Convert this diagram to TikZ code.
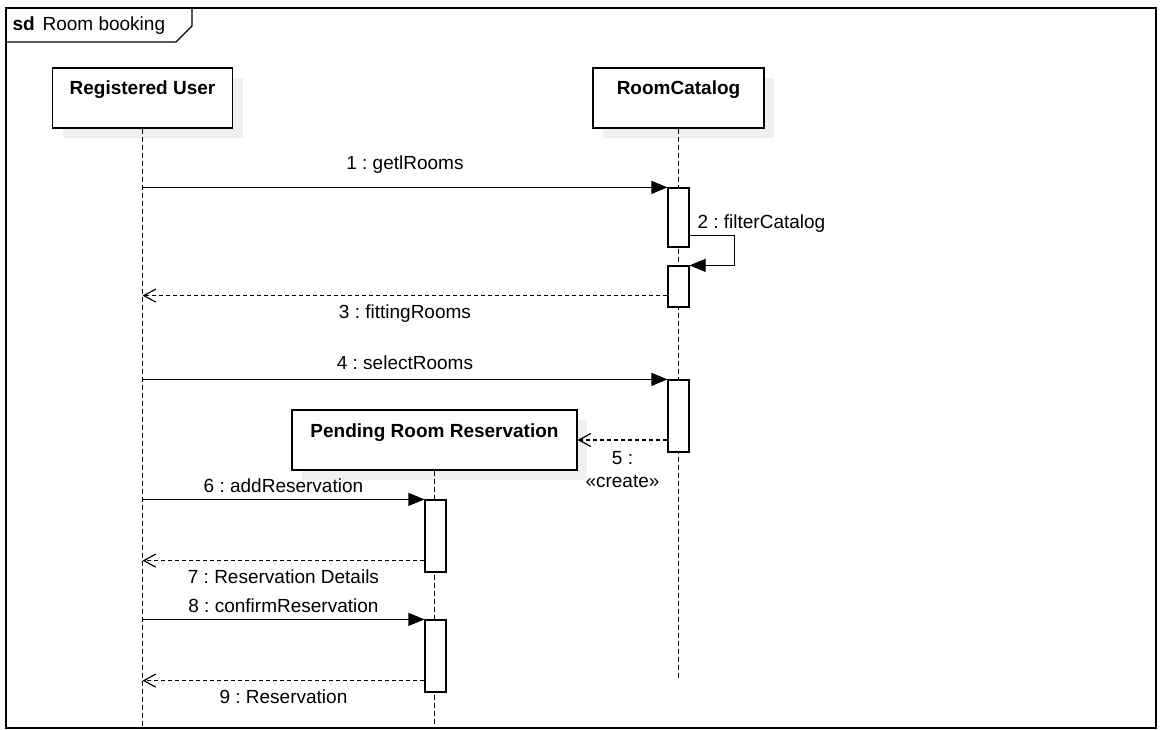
\documentclass[tikz,border=0pt]{standalone}
\usepackage{fontspec}
\setmainfont{Liberation Sans}
\usetikzlibrary{arrows.meta,shadows}
\frenchspacing

\begin{document}
\begin{tikzpicture}[x=1pt, y=-1pt, line width=1.2pt, font=\fontsize{19}{23}\selectfont,
	lifebox/.style={draw, fill=white, minimum height=60pt, text height=14pt, text depth=20pt, font=\fontsize{19}{23}\selectfont\bfseries,
		drop shadow={fill=black!6, opacity=1, shadow xshift=10pt, shadow yshift=-10pt}},
	act/.style={draw, fill=white, minimum width=21pt, inner sep=0pt},
	lifeline/.style={dash pattern=on 5pt off 3pt},
	call/.style={-{Triangle[length=16pt, width=13pt]}},
	reply/.style={dash pattern=on 4pt off 3pt, -{Straight Barb[length=12pt, width=13pt]}},
	up/.style={midway, anchor=base, yshift=#1},
	up/.default=18pt,
	down/.style={midway, anchor=base, yshift=-23pt}]

		\useasboundingbox (0,0) rectangle (1160,730);

		% frame
		\draw (6,8) rectangle (1156,728);
		\draw (6,42) -- (176,42) -- (192,26) -- (192,8);
		\node[anchor=base west, inner sep=0pt] (sd) at (12,31) {\textbf{sd}};
		\node[anchor=base west, inner sep=0pt] (title) at (42,31) {Room booking};

		% lifelines
		\node[lifebox, minimum width=180pt] (ru) at (142.5,98) {Registered User};
		\node[lifebox, minimum width=171pt] (rc) at (678.5,98) {RoomCatalog};
		\coordinate (bot) at (0,728);
		\coordinate (rcend) at (0,680);
		\draw[lifeline] (ru.south) -- (ru.south |- bot);
		\draw[lifeline] (rc.south) -- (rc.south |- rcend);

		\node[lifebox, minimum width=285pt] (prr) at (434.5,440) {Pending Room Reservation};
		\draw[lifeline] (prr.south) -- (prr.south |- bot);

		% activations
		\node[act, minimum height=59pt] (c1) at (678.5,217.5) {};
		\node[act, minimum height=41pt] (c2) at (678.5,286.5) {};
		\node[act, minimum height=72pt] (c3) at (678.5,416) {};
		\node[act, minimum height=72pt] (p1) at (435.5,536) {};
		\node[act, minimum height=72pt] (p2) at (435.5,656) {};

		% messages
		\draw[call] (ru.south |- c1.north) -- node[up] {1 : getlRooms} (c1.north west);
		\draw[call] ([yshift=12pt]c1.south east) node[anchor=base west, xshift=4pt, yshift=7pt] {2 : filterCatalog}
			-- ++(45,0) |- (c2.north east);
		\draw[reply] ([yshift=12pt]c2.south west) coordinate (r3) -- node[down] {3 : fittingRooms} (ru.south |- r3);
		\draw[call] (ru.south |- c3.north) -- node[up=10pt] {4 : selectRooms} (c3.north west);
		\draw[reply] (c3.west |- prr.east) -- node[below=7pt, align=center] {5 :\\«create»} (prr.east);
		\draw[call] (ru.south |- p1.north) -- node[up=7pt] {6 : addReservation} (p1.north west);
		\draw[reply] ([yshift=12pt]p1.south west) coordinate (r7) -- node[down] {7 : Reservation Details} (ru.south |- r7);
		\draw[call] (ru.south |- p2.north) -- node[up=7pt] {8 : confirmReservation} (p2.north west);
		\draw[reply] ([yshift=12pt]p2.south west) coordinate (r9) -- node[down] {9 : Reservation} (ru.south |- r9);

\end{tikzpicture}
\end{document}
